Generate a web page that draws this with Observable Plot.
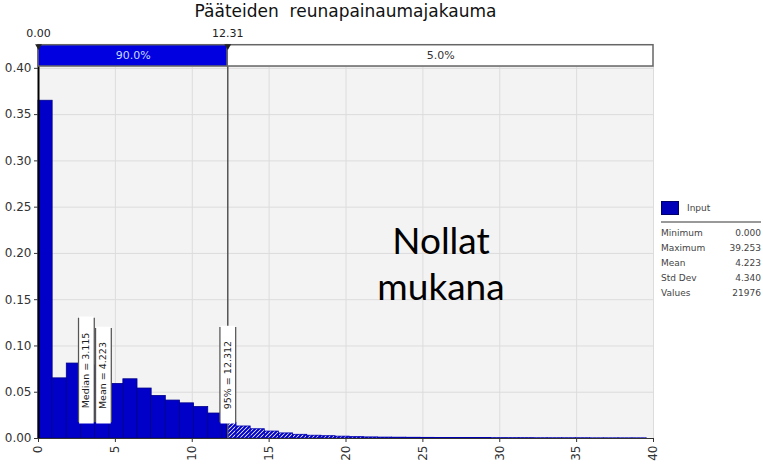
<!DOCTYPE html>
<html><head><meta charset="utf-8">
<script src="https://cdn.jsdelivr.net/npm/d3@7"></script>
<script src="https://cdn.jsdelivr.net/npm/@observablehq/plot@0.6"></script>
<style>
body{margin:0;background:#fff;font-family:"DejaVu Sans",sans-serif;}
#wrap{position:relative;width:763px;height:467px;overflow:hidden;}
#chart{position:absolute;left:0;top:0;}
#title{position:absolute;left:0;width:691px;top:1px;text-align:center;font-size:17px;white-space:pre;color:#111;}
#legend{position:absolute;left:661px;top:200px;width:100px;font-size:9px;color:#444;}
#legend .head{display:flex;align-items:center;height:16px;}
#legend .sw{width:18px;height:14px;background:#0000b8;border:1px solid #00006a;box-sizing:border-box;margin-right:8px;}
#legend .sep{height:0;border-top:2px solid #999;margin:5px 0 3px 0;}
#legend .row{display:flex;justify-content:space-between;height:15px;line-height:15px;}
</style></head><body>
<div id="wrap"><div id="chart"></div><div id="title"></div><div id="legend"></div></div>
<script>
const title = "Pääteiden  reunapainaumajakauma";
const binWidth = 0.92;
const density = [0.365, 0.065, 0.081, 0.079, 0.068, 0.059, 0.064, 0.054, 0.046, 0.041,
  0.038, 0.034, 0.027, 0.017, 0.013, 0.010, 0.0075, 0.0055, 0.004, 0.003,
  0.0025, 0.002, 0.0015, 0.0012, 0.001, 0.0009, 0.0008, 0.0007, 0.0006, 0.0006,
  0.0005, 0.0005, 0.0004, 0.0004, 0.0004, 0.0003, 0.0003, 0.0003, 0.0003, 0.0002,
  0.0002, 0.0002, 0.0002];
const pLow = 0.00, pHigh = 12.31;
const bandShares = ["90.0%", "5.0%"];
const markerLabels = ["Median = 3.115", "Mean = 4.223", "95% = 12.312"];
const markerValues = [3.115, 4.223, 12.312];
const markerTops = [0.130, 0.119, 0.120];
const markerBottom = 0.017;
const statNames = ["Minimum", "Maximum", "Mean", "Std Dev", "Values"];
const statValues = ["0.000", "39.253", "4.223", "4.340", "21976"];
const seriesName = "Input";
const note = ["Nollat", "mukana"];
const xTicks = [0, 5, 10, 15, 20, 25, 30, 35, 40];
const yTicks = [0, 0.05, 0.10, 0.15, 0.20, 0.25, 0.30, 0.35, 0.40];

const yMax = 0.402, bandTop = 0.425;
const bins = density.map((v, i) => ({x1: i * binWidth, x2: (i + 1) * binWidth, y: v}));
const solid = bins.filter(d => d.x1 < pHigh).map(d => ({...d, x2: Math.min(d.x2, pHigh)}));
const tail = bins.filter(d => d.x2 > pHigh).map(d => ({...d, x1: Math.max(d.x1, pHigh)}));
const band = [
  {x1: pLow, x2: pHigh, fill: "#0000e0", label: bandShares[0], tc: "#c8d8ff"},
  {x1: pHigh, x2: 40, fill: "#ffffff", label: bandShares[1], tc: "#333"}
];
const markers = markerLabels.map((l, i) => ({label: l, x: markerValues[i], top: markerTops[i]}));

const svg = Plot.plot({
  width: 763, height: 467,
  marginLeft: 38, marginRight: 110, marginTop: 66, marginBottom: 29,
  style: {fontFamily: "DejaVu Sans", fontSize: "12px", color: "#333", background: "transparent"},
  x: {domain: [0, 40]},
  y: {domain: [0, yMax]},
  marks: [
    Plot.frame({fill: "#f3f3f3", stroke: "#e2e2e2"}),
    Plot.gridX(xTicks.slice(1), {stroke: "#dcdcdc", strokeOpacity: 1}),
    Plot.gridY(yTicks.slice(1), {stroke: "#dcdcdc", strokeOpacity: 1}),
    Plot.rectY(solid, {x1: "x1", x2: "x2", y: "y", fill: "#0000c8", stroke: "#00008a", strokeWidth: 0.8}),
    Plot.rectY(tail, {x1: "x1", x2: "x2", y: "y", fill: "url(#hatch)", stroke: "#0000b0", strokeWidth: 0.8}),
    Plot.ruleY([0], {stroke: "#333", strokeWidth: 1}),
    Plot.ruleX([pLow], {y1: 0, y2: bandTop, stroke: "#000", strokeWidth: 2}),
    Plot.ruleX([pHigh], {y1: 0, y2: bandTop, stroke: "#555", strokeWidth: 1.5}),
    Plot.rect(band, {x1: "x1", x2: "x2", y1: yMax, y2: bandTop, fill: "fill", stroke: "#666", strokeWidth: 1.5}),
    Plot.text(band, {x: d => (d.x1 + d.x2) / 2, y: (yMax + bandTop) / 2, text: "label", fill: "tc", fontSize: 11}),
    Plot.text([pLow, pHigh], {x: d => d, y: bandTop, text: d => d.toFixed(2), dy: -12, fontSize: 11, fill: "#222"}),
    Plot.dot([pLow, pHigh], {x: d => d, y: bandTop, symbol: "triangle", r: 2.5, rotate: 180, fill: "#222", dy: 1}),
    Plot.ruleX(markers, {x: "x", y1: markerBottom, y2: "top", stroke: "#555", strokeWidth: 17, strokeLinecap: "butt"}),
    Plot.ruleX(markers, {x: "x", y1: markerBottom, y2: "top", stroke: "#fff", strokeWidth: 14.5, insetTop: 1.2, insetBottom: 1.2}),
    Plot.text(markers, {x: "x", y: d => (d.top + markerBottom) / 2, text: "label", rotate: -90, fontSize: 9.5, fill: "#222"}),
    Plot.text([note.join("\n")], {frameAnchor: "middle", dx: 95, dy: 10, fontSize: 37, lineHeight: 1.22, fontFamily: "Lato", fill: "#000"}),
    Plot.axisY({ticks: yTicks, tickFormat: d3.format(".2f"), tickSize: 4, tickPadding: 3, fontSize: 12}),
    Plot.axisX({ticks: xTicks, tickFormat: d => String(d), tickRotate: -90, tickSize: 4, tickPadding: 3, fontSize: 12})
  ]
});

const defs = d3.select(svg).insert("defs", ":first-child");
const pat = defs.append("pattern").attr("id", "hatch").attr("patternUnits", "userSpaceOnUse").attr("width", 4).attr("height", 4);
pat.append("rect").attr("width", 4).attr("height", 4).attr("fill", "#fff");
pat.append("path").attr("d", "M-1,1 l2,-2 M0,4 l4,-4 M3,5 l2,-2").attr("stroke", "#0000c8").attr("stroke-width", 2);

document.getElementById("chart").appendChild(svg);
document.getElementById("title").textContent = title;

const lg = d3.select("#legend");
const head = lg.append("div").attr("class", "head");
head.append("div").attr("class", "sw");
head.append("span").text(seriesName);
lg.append("div").attr("class", "sep");
statNames.forEach((n, i) => {
  const r = lg.append("div").attr("class", "row");
  r.append("span").text(n);
  r.append("span").text(statValues[i]);
});
</script>
</body></html>
